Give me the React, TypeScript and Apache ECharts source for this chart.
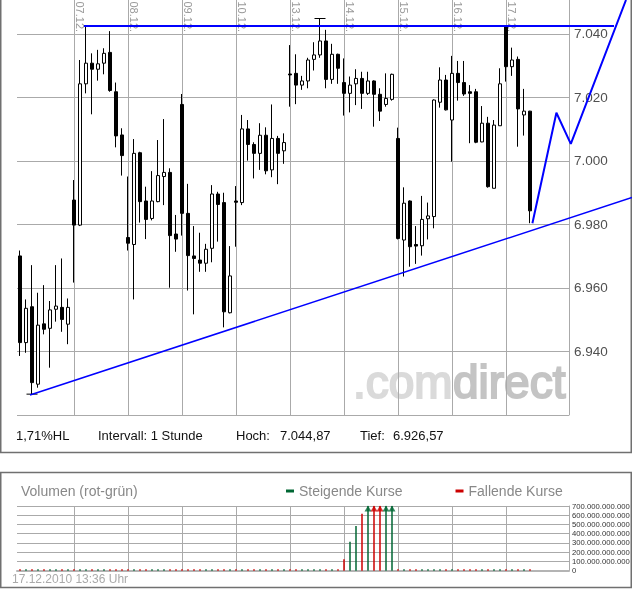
import React, { useEffect, useRef } from 'react';
import * as echarts from 'echarts';

const FONT = '"Liberation Sans", Arial, sans-serif';

const days = ['06.12.', '07.12.', '08.12.', '09.12.', '10.12.', '13.12.', '14.12.', '15.12.', '16.12.', '17.12.', '20.12.'];
const hours = ['09:00', '10:00', '11:00', '12:00', '13:00', '14:00', '15:00', '16:00', '17:00'];
const SLOTS = 92;
const EXT_MAX = 102;

const opens = [
  6970.1, 6942.8, 6954.1, 6929.7, 6948.7, 6947.3, 6953.3, 6953.9, 6948.6,
  6987.7, 6979.8, 7024.3, 7030.8, 7028.9, 7030.8, 7034.2, 7021.8, 7008.2,
  6975.9, 6973.7, 7002.6, 6987.4, 6981.9, 6987.2, 6995.1, 6996.4, 6977.0,
  7017.8, 6983.5, 6970.1, 6968.8, 6967.8, 6972.5, 6989.6, 6986.9, 6952.2,
  6987.4, 6986.9, 7010.1, 7005.2, 7002.4, 7008.1, 6997.2, 7007.1, 7003.2,
  7027.4, 7027.6, 7023.9, 7025.2, 7032.0, 7033.4, 7037.8, 7025.7, 7033.6,
  7024.7, 7021.3, 7024.3, 7026.0, 7021.3, 7025.2, 7021.0, 7017.8, 7019.4,
  7007.1, 6975.1, 6987.4, 6973.7, 6973.3, 6981.8, 6982.5, 7018.5, 7025.5,
  7012.9, 7027.6, 7024.7, 7021.8, 7021.8, 7006.0, 7011.9, 6991.4, 7011.1,
  7042.5, 7029.7, 7032.0, 7014.5, 7015.7,
];
const closes = [
  6942.8, 6953.6, 6930.2, 6948.3, 6947.0, 6953.1, 6954.3, 6950.1, 6953.9,
  6979.8, 7024.3, 7030.8, 7028.9, 7030.6, 7033.9, 7022.2, 7007.9, 7001.7,
  6974.1, 7002.4, 6987.2, 6981.6, 6987.4, 6995.4, 6996.4, 6976.5, 6975.4,
  6983.5, 6970.2, 6969.3, 6967.8, 6972.2, 6989.6, 6986.3, 6952.5, 6963.8,
  6987.0, 7010.1, 7005.2, 7002.4, 7008.1, 6996.9, 7007.1, 7002.4, 7005.8,
  7027.1, 7023.9, 7025.2, 7031.8, 7033.4, 7037.8, 7025.7, 7033.6, 7029.2,
  7021.3, 7023.9, 7026.0, 7021.3, 7025.2, 7021.0, 7015.7, 7019.7, 7027.3,
  6975.6, 6986.7, 6973.0, 6973.2, 6981.6, 6982.7, 7019.2, 7025.5, 7016.1,
  7027.6, 7024.7, 7021.1, 7021.3, 7005.9, 7011.9, 6991.9, 7011.3, 7024.3,
  7029.7, 7031.8, 7016.4, 7015.7, 6984.3,
];
const lows = [
  6938.6, 6939.6, 6926.57, 6928.6, 6945.4, 6934.9, 6949.4, 6946.2, 6942.3,
  6961.7, 6979.5, 7021.3, 7014.7, 7025.3, 7027.3, 7021.8, 7004.3, 6995.4,
  6971.8, 6956.4, 6980.6, 6975.4, 6981.3, 6987.0, 6986.1, 6960.1, 6971.4,
  6976.5, 6959.2, 6951.7, 6965.1, 6965.1, 6968.1, 6974.6, 6947.6, 6952.0,
  6973.0, 6986.1, 7000.1, 6994.5, 6997.2, 6995.8, 6994.9, 6992.7, 6999.1,
  7017.1, 7017.9, 7022.4, 7022.9, 7028.5, 7032.5, 7022.9, 7024.3, 7024.3,
  7014.3, 7015.3, 7017.6, 7016.4, 7020.8, 7010.8, 7012.6, 7017.1, 7019.0,
  6975.3, 6963.6, 6966.7, 6967.6, 6970.2, 6975.3, 6978.8, 7016.8, 7015.9,
  6999.8, 7019.0, 7020.5, 7005.6, 7005.6, 7005.9, 6991.6, 6991.4, 7011.1,
  7025.0, 7026.8, 7004.5, 7008.0, 6980.4,
];
const highs = [
  6971.8, 6956.4, 6967.2, 6958.5, 6960.9, 6955.9, 6967.2, 6969.3, 6956.7,
  6994.0, 7031.8, 7042.5, 7033.9, 7035.0, 7035.5, 7040.9, 7024.7, 7010.3,
  6995.1, 7006.9, 7002.9, 6991.9, 6996.8, 7006.6, 7013.2, 6997.7, 6983.0,
  7021.1, 6992.8, 6979.5, 6977.4, 6973.9, 6992.4, 6990.3, 6990.0, 6973.2,
  6992.1, 7014.5, 7012.9, 7005.9, 7011.9, 7010.6, 7017.8, 7007.9, 7008.7,
  7036.5, 7033.6, 7026.8, 7032.5, 7037.4, 7044.87, 7041.3, 7036.9, 7033.8,
  7032.3, 7026.6, 7028.9, 7028.1, 7028.1, 7025.4, 7022.9, 7027.6, 7027.5,
  7010.5, 6991.7, 6987.6, 6979.5, 6989.0, 6986.9, 7019.4, 7029.5, 7027.1,
  7033.1, 7031.5, 7031.5, 7023.9, 7022.7, 7017.3, 7013.9, 7012.9, 7029.2,
  7042.7, 7035.7, 7032.9, 7022.7, 7015.8,
];
// volume in units of 1.000.000.000
const volumes = [
  15, 15, 15, 15, 15, 15, 15, 15, 15,
  15, 15, 15, 15, 15, 15, 15, 15, 15,
  15, 15, 15, 15, 15, 15, 15, 15, 15,
  15, 15, 15, 15, 15, 15, 15, 15, 15,
  15, 15, 15, 15, 15, 15, 15, 15, 15,
  15, 15, 15, 15, 15, 15, 15, 15, 15,
  123, 314, 484, 617, 980, 1150, 1020, 900, 860,
  15, 15, 15, 15, 15, 15, 15, 15, 15,
  15, 15, 15, 15, 15, 15, 15, 15, 15,
  15, 15, 15, 15, 15,
];

// trend lines drawn by hand on the chart: [slot index, price]
const resistanceLine = [[10.67, 7042.5], [99, 7042.5]];
const supportLine = [[1.67, 6926.3], [102, 6988.5]];
const projectionLine = [[85.4, 6980.4], [89.4, 7015.2], [91.8, 7005.4], [101, 7050.7]];

const PRICE_MIN = 6920;
const PRICE_MAX = 7050.7;
const PRICE_STEP = 20;
const VOL_MAX = 700;
const VOL_STEP = 100;

const INTERVAL_TEXT = 'Intervall: 1 Stunde';
const STAMP_TEXT = '17.12.2010 13:36 Uhr';
const VOL_TITLE = 'Volumen (rot-grün)';
const UP_NAME = 'Steigende Kurse';
const DOWN_NAME = 'Fallende Kurse';

const GRID = '#aaaaaa';
const GREEN = '#006633';
const RED = '#cc0000';

const thousands = (v: number) => String(Math.round(v)).replace(/\B(?=(\d{3})+(?!\d))/g, '.');
const de2 = (v: number) => {
  const [i, d] = v.toFixed(2).split('.');
  return i.replace(/\B(?=(\d{3})+(?!\d))/g, '.') + ',' + d;
};

export default function App() {
  const ref = useRef<HTMLDivElement>(null);

  useEffect(() => {
    if (!ref.current) return;
    const chart = echarts.init(ref.current, undefined, { renderer: 'svg' });

    const categories: string[] = [];
    for (const d of days) for (const h of hours) if (categories.length < SLOTS) categories.push(d + ' ' + h);

    const candles = opens.map((o, i) => [o, closes[i], lows[i], highs[i]]);
    const isUp = (i: number) => closes[i] >= opens[i];
    const upVol = volumes.map((v, i) => (isUp(i) ? v : '-'));
    const downVol = volumes.map((v, i) => (isUp(i) ? '-' : v));
    const arrows = volumes
      .map((v, i) => (v > VOL_MAX ? { value: [i, VOL_MAX], itemStyle: { color: isUp(i) ? GREEN : RED } } : null))
      .filter(Boolean);

    const hoch = Math.max(...highs);
    const tief = Math.min(...lows);
    const hl = (((hoch - tief) / tief) * 100).toFixed(2).replace('.', ',') + '%HL';

    const dayLine = (idx: number) => idx > 0 && idx % 9 === 0 && idx < opens.length;
    const dayLabel = (idx: number) => idx > 9 && idx % 9 === 1 && idx < opens.length;

    const txt = (text: string, x: number, y: number, size: number, color: string) => ({
      type: 'text',
      x,
      y,
      silent: true,
      style: { text, fill: color, font: `${size}px ${FONT}`, textAlign: 'left', textVerticalAlign: 'middle' },
    });

    const blue = (data: number[][], width: number) => ({
      type: 'line',
      xAxisIndex: 4,
      yAxisIndex: 2,
      data,
      symbol: 'none',
      clip: false,
      silent: true,
      lineStyle: { color: '#0000ff', width },
      z: 5,
    });

    chart.setOption({
      animation: false,
      textStyle: { fontFamily: FONT },
      grid: [
        { left: 17, top: 0, width: 552, height: 415, outerBoundsMode: 'none', containLabel: false },
        { left: 17, top: 506, width: 552, height: 64.7, outerBoundsMode: 'none', containLabel: false },
        { left: 17, top: 0, width: 6 * (EXT_MAX + 0.5), height: 415, outerBoundsMode: 'none', containLabel: false },
      ],
      legend: {
        data: [UP_NAME, DOWN_NAME],
        left: 286,
        top: 484,
        padding: 0,
        icon: 'rect',
        itemWidth: 8,
        itemHeight: 3,
        itemGap: 53,
        selectedMode: false,
        textStyle: { color: '#888888', fontSize: 14, fontFamily: FONT },
      },
      xAxis: [
        {
          type: 'category', gridIndex: 0, data: categories,
          axisLine: { show: false, onZero: false }, axisTick: { show: false }, axisLabel: { show: false },
          splitLine: { show: true, interval: dayLine, alignWithLabel: true, lineStyle: { color: GRID, width: 1 } },
        },
        {
          type: 'category', gridIndex: 0, position: 'top', data: categories,
          axisLine: { show: false, onZero: false }, axisTick: { show: false }, splitLine: { show: false },
          axisLabel: {
            show: true, inside: true, rotate: 90, margin: 1.5, interval: dayLabel,
            formatter: (v: string) => v.split(' ')[0], color: '#999999', fontSize: 11, fontFamily: FONT,
          },
        },
        { type: 'value', gridIndex: 0, min: -0.5, max: SLOTS - 0.5, show: false },
        {
          type: 'category', gridIndex: 1, data: categories,
          axisLine: { show: true, onZero: false, lineStyle: { color: '#b4b4b4', width: 2 } },
          axisTick: { show: false }, axisLabel: { show: false },
          splitLine: { show: true, interval: dayLine, alignWithLabel: true, lineStyle: { color: GRID, width: 1 } },
        },
        { type: 'value', gridIndex: 2, min: -0.5, max: EXT_MAX, show: false },
      ],
      yAxis: [
        {
          type: 'value', gridIndex: 0, position: 'right', min: PRICE_MIN, max: PRICE_MAX, interval: PRICE_STEP,
          axisLine: { show: true, onZero: false, lineStyle: { color: GRID } }, axisTick: { show: false },
          axisLabel: {
            margin: 5, color: '#505050', fontSize: 13.5, fontFamily: FONT,
            showMaxLabel: false, showMinLabel: false, formatter: (v: number) => thousands(v),
          },
          splitLine: { show: true, showMaxLine: false, lineStyle: { color: GRID, width: 1 } },
        },
        {
          type: 'value', gridIndex: 1, position: 'right', min: 0, max: VOL_MAX, interval: VOL_STEP,
          axisLine: { show: true, onZero: false, lineStyle: { color: GRID } }, axisTick: { show: false },
          axisLabel: {
            margin: 3, color: '#333333', fontSize: 7.7, lineHeight: 8, fontFamily: FONT, hideOverlap: false,
            showMinLabel: true, showMaxLabel: true, formatter: (v: number) => thousands(v * 1e9),
          },
          splitLine: { show: true, lineStyle: { color: GRID, width: 1 } },
        },
        { type: 'value', gridIndex: 2, min: PRICE_MIN, max: PRICE_MAX, show: false },
      ],
      series: [
        {
          type: 'candlestick',
          xAxisIndex: 0,
          yAxisIndex: 0,
          data: candles,
          barWidth: 4,
          silent: true,
          itemStyle: { color: '#ffffff', color0: '#000000', borderColor: '#000000', borderColor0: '#000000', borderWidth: 1 },
          markPoint: {
            silent: true,
            symbol: 'rect',
            symbolSize: [11, 1],
            label: { show: false },
            itemStyle: { color: '#000000' },
            data: [
              { type: 'max', valueDim: 'highest' },
              { type: 'min', valueDim: 'lowest' },
            ],
          },
          z: 3,
        },
        blue(resistanceLine, 2),
        blue(supportLine, 1.5),
        blue(projectionLine, 2),
        {
          name: UP_NAME, type: 'bar', xAxisIndex: 3, yAxisIndex: 1, data: upVol,
          barWidth: 1.5, barGap: '-100%', silent: true, itemStyle: { color: GREEN },
        },
        {
          name: DOWN_NAME, type: 'bar', xAxisIndex: 3, yAxisIndex: 1, data: downVol,
          barWidth: 1.5, barGap: '-100%', silent: true, itemStyle: { color: RED },
        },
        {
          type: 'scatter', xAxisIndex: 3, yAxisIndex: 1, data: arrows,
          symbol: 'triangle', symbolSize: [7, 6], symbolOffset: [0, 2.5], silent: true, z: 4,
        },
      ],
      graphic: [
        { type: 'rect', silent: true, shape: { x: 0.75, y: -2, width: 630.5, height: 454.5 }, style: { fill: 'none', stroke: '#707070', lineWidth: 1.5 } },
        { type: 'rect', silent: true, shape: { x: 0.75, y: 472.5, width: 630.5, height: 115 }, style: { fill: 'none', stroke: '#707070', lineWidth: 1.5 } },
        {
          type: 'text', x: 353, y: 382, silent: true,
          style: { text: '.com', fill: '#dadada', stroke: '#dadada', lineWidth: 2, font: `46px ${FONT}`, textAlign: 'left', textVerticalAlign: 'middle' },
        },
        {
          type: 'text', x: 453, y: 382, silent: true,
          style: { text: 'direct', fill: '#c4c4c4', stroke: '#c4c4c4', lineWidth: 2, font: `46px ${FONT}`, textAlign: 'left', textVerticalAlign: 'middle' },
        },
        txt(hl, 16, 435, 13, '#111111'),
        txt(INTERVAL_TEXT, 98, 435, 13, '#111111'),
        txt('Hoch:', 236, 435, 13, '#111111'),
        txt(de2(hoch), 280, 435, 13, '#111111'),
        txt('Tief:', 360, 435, 13, '#111111'),
        txt(de2(tief), 393, 435, 13, '#111111'),
        txt(VOL_TITLE, 21, 491, 14, '#888888'),
        txt(STAMP_TEXT, 12, 579, 12, '#aaaaaa'),
      ],
    });

    return () => chart.dispose();
  }, []);

  return <div ref={ref} style={{ position: 'fixed', left: 0, top: 0, width: 632, height: 590 }} />;
}
